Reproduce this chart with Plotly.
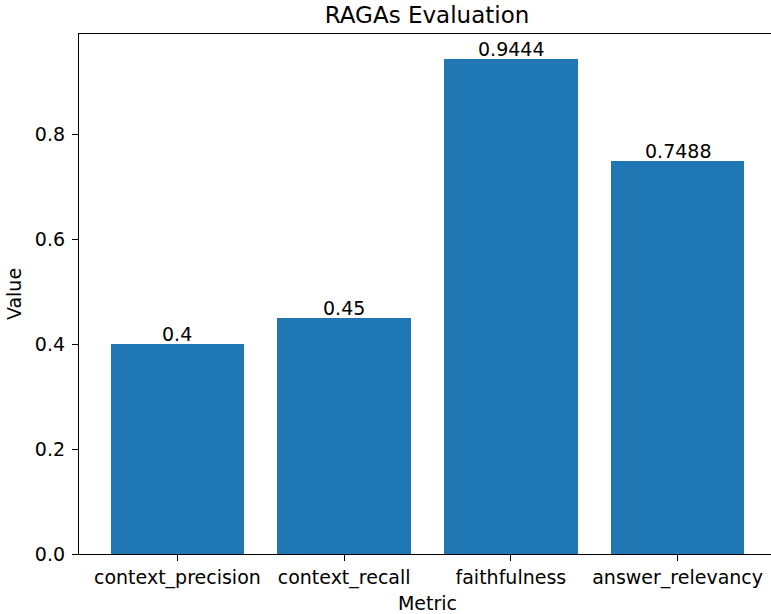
import plotly.graph_objects as go

categories = ["context_precision", "context_recall", "faithfulness", "answer_relevancy"]
values = [0.4, 0.45, 0.9444, 0.7488]
value_labels = ["0.4", "0.45", "0.9444", "0.7488"]
y_ticks = [0.0, 0.2, 0.4, 0.6, 0.8]
y_tick_labels = ["0.0", "0.2", "0.4", "0.6", "0.8"]

positions = list(range(len(categories)))

FONT = "DejaVu Sans"
FS = 19
TITLE_FS = 23

fig = go.Figure()
fig.add_trace(go.Bar(
    x=positions,
    y=values,
    width=0.8,
    marker=dict(color="#1f77b4", line=dict(width=0)),
    hoverinfo="skip",
))

for xp, v, lab in zip(positions, values, value_labels):
    fig.add_annotation(
        x=xp, y=v, text=lab, showarrow=False,
        xanchor="center", yanchor="bottom", yshift=-3,
        font=dict(family=FONT, size=FS, color="black"),
    )

fig.update_layout(
    width=776,
    height=614,
    margin=dict(l=79, r=0, t=34, b=60, autoexpand=False),
    paper_bgcolor="white",
    plot_bgcolor="white",
    showlegend=False,
    font=dict(family=FONT, size=FS, color="black"),
    title=dict(
        text="RAGAs Evaluation",
        x=427 / 776,
        xanchor="center",
        y=1 - 15 / 614,
        yanchor="middle",
        font=dict(family=FONT, size=TITLE_FS, color="black"),
    ),
    bargap=0,
)

fig.update_xaxes(
    range=[-0.59, 3.59],
    tickvals=positions,
    ticktext=categories,
    showgrid=False,
    zeroline=False,
    showline=True,
    linecolor="black",
    linewidth=1.3,
    mirror=True,
    ticks="outside",
    ticklen=6,
    tickwidth=1.3,
    tickcolor="black",
    ticklabelstandoff=0,
    tickfont=dict(family=FONT, size=FS, color="black"),
    title=dict(text="Metric", font=dict(family=FONT, size=FS, color="black"), standoff=8),
)

fig.update_yaxes(
    range=[0, 0.9916],
    tickvals=y_ticks,
    ticktext=y_tick_labels,
    showgrid=False,
    zeroline=False,
    showline=True,
    linecolor="black",
    linewidth=1.3,
    ticks="outside",
    ticklen=6,
    tickwidth=1.3,
    tickcolor="black",
    ticklabelstandoff=3,
    tickfont=dict(family=FONT, size=FS, color="black"),
    title=dict(text="Value", font=dict(family=FONT, size=FS, color="black"), standoff=8),
)

fig.write_html(
    "out.html",
    config={"displayModeBar": False},
    post_script="document.body.style.margin='0';document.body.style.padding='0';"
                "document.body.style.overflow='hidden';document.documentElement.style.overflow='hidden';",
)
